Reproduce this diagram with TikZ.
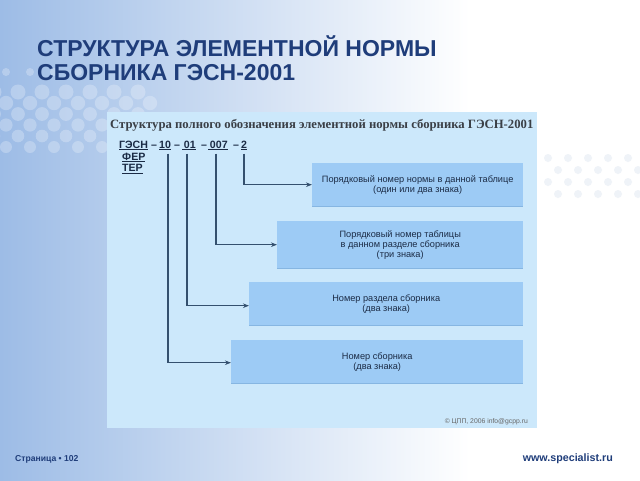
\documentclass[tikz,border=0pt]{standalone}
\usepackage{fontspec}
\setmainfont{Liberation Sans}
\newfontfamily\serifface{Liberation Serif}
\usetikzlibrary{arrows.meta}
\definecolor{bgblue}{HTML}{9DBCE6}
\definecolor{titleblue}{HTML}{1F3D7A}
\definecolor{panelblue}{HTML}{CCE8FB}
\definecolor{boxblue}{HTML}{9DCBF5}
\definecolor{boxedge}{HTML}{86B6E2}
\definecolor{linecol}{HTML}{34506E}
\definecolor{textdark}{HTML}{1B2B45}
\definecolor{subgray}{HTML}{3A3F46}
\definecolor{dotgray}{HTML}{EFF3F8}
\tikzset{
  infobox/.style={fill=boxblue, inner sep=0pt, anchor=north west, align=center,
    text=textdark, font=\fontsize{9.2}{10}\selectfont},
  codetok/.style={anchor=base west, inner sep=0pt, text=textdark,
    font=\bfseries\fontsize{10.6}{11}\selectfont},
  conn/.style={draw=linecol, line width=1.1pt, -{Stealth[length=6pt,width=4.5pt]}},
  titletxt/.style={anchor=base west, inner sep=0pt, text=titleblue,
    font=\bfseries\fontsize{23}{25}\selectfont},
  foottxt/.style={anchor=base west, inner sep=0pt, text=titleblue}
}
\begin{document}
\begin{tikzpicture}[x=1pt,y=-1pt]
\useasboundingbox (0,0) rectangle (640,480);
% background
\shade[left color=bgblue, right color=white] (0,0) rectangle (470,480);
\fill[white] (470,0) rectangle (640,480);
% dots top-left
\foreach \r in {0,...,5}{
  \foreach \c in {0,...,6}{
    \fill[white, opacity=0.25] ({\c*24 + mod(\r,2)*12 - 6}, {92 + \r*11}) circle ({7.5 - 0.3*\r});
  }
}
\foreach \c in {0,...,3}{
  \fill[white, opacity=0.25] ({\c*24 + 6}, 72) circle (4);
}
% faint dots right
\foreach \r in {0,...,3}{
  \foreach \c in {0,...,4}{
    \fill[dotgray] ({548 + \c*20 + mod(\r,2)*10}, {158 + \r*12}) circle (4);
  }
}
% title
\node[titletxt] (title1) at (37,56) {СТРУКТУРА ЭЛЕМЕНТНОЙ НОРМЫ};
\node[titletxt] (title2) at (37,80) {СБОРНИКА ГЭСН-2001};
% panel
\fill[panelblue] (107,112) rectangle (537,428);
\node[anchor=base west, inner sep=0pt, text=subgray,
  font=\serifface\bfseries\fontsize{12.7}{13}\selectfont] (sub) at (110,128.5)
  {Структура полного обозначения элементной нормы сборника ГЭСН-2001};
% code
\node[codetok] (kgesn) at (119,148) {\underline{ГЭСН}};
\node[codetok] (d1) at (151,148) {–};
\node[codetok] (k10) at (159,148) {\underline{10}};
\node[codetok] (d2) at (174,148) {–};
\node[codetok] (k01) at (182,148) {\underline{\,01}};
\node[codetok] (d3) at (201,148) {–};
\node[codetok] (k007) at (208,148) {\underline{\,007}};
\node[codetok] (d4) at (233,148) {–};
\node[codetok] (k2) at (241,148) {\underline{2}};
\node[codetok] (kfer) at (122,160) {\underline{ФЕР}};
\node[codetok] (kter) at (122,171.7) {\underline{ТЕР}};
% boxes
\node[infobox, minimum width=211pt, minimum height=43pt] (b1) at (312,163)
  {Порядковый номер нормы в данной таблице\\(один или два знака)};
\node[infobox, minimum width=246pt, minimum height=47pt] (b2) at (277,221)
  {Порядковый номер таблицы\\в данном разделе сборника\\(три знака)};
\node[infobox, minimum width=274pt, minimum height=43pt] (b3) at (249,282)
  {Номер раздела сборника\\(два знака)};
\node[infobox, minimum width=292pt, minimum height=43pt] (b4) at (231,340)
  {Номер сборника\\(два знака)};
\foreach \b in {b1,b2,b3,b4}{
  \draw[boxedge, line width=1pt] (\b.south west) -- (\b.south east);
}
% connectors
\coordinate (s10) at (168,153.5);
\coordinate (s01) at (187,153.5);
\coordinate (s007) at (216,153.5);
\coordinate (s2) at (244,153.5);
\draw[conn] (s2) |- (b1.west);
\draw[conn] (s007) |- (b2.west);
\draw[conn] (s01) |- ([yshift=-2pt]b3.west);
\draw[conn] (s10) |- ([yshift=-1pt]b4.west);
% copyright
\node[anchor=base east, inner sep=0pt, text=black!60, font=\fontsize{6.8}{7}\selectfont]
  (copy) at (528,423.5) {© ЦПП, 2006 info@gcpp.ru};
% footer
\node[foottxt, font=\bfseries\fontsize{8.6}{9}\selectfont] (page) at (15,461.5) {Страница • 102};
\node[anchor=base east, inner sep=0pt, text=titleblue, font=\bfseries\fontsize{10.7}{11}\selectfont]
  (www) at (613,461.5) {www.specialist.ru};
\end{tikzpicture}
\end{document}
